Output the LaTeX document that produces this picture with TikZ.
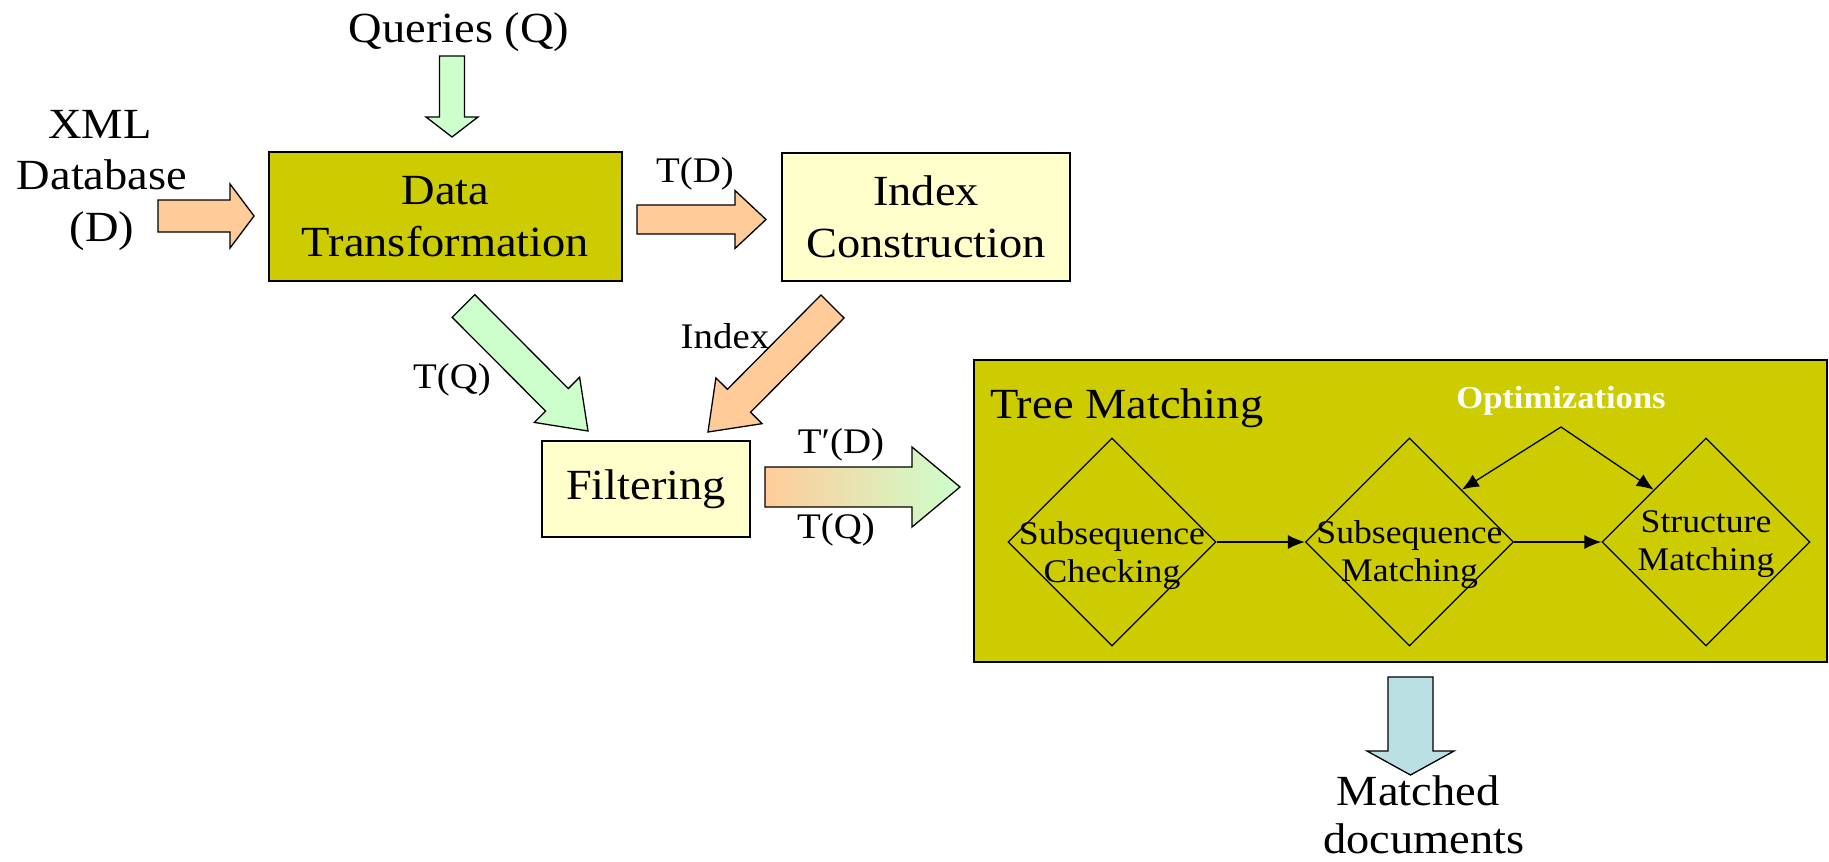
\documentclass[tikz,border=0pt]{standalone}
\usepackage{fontspec}
\setmainfont{Liberation Serif}[FakeStretch=1.08]
\usetikzlibrary{calc,arrows.meta,shapes.geometric}
\definecolor{oliveF}{RGB}{204,204,0}
\definecolor{paleY}{RGB}{255,255,204}
\definecolor{orA}{RGB}{255,204,153}
\definecolor{grA}{RGB}{204,255,204}
\definecolor{blA}{RGB}{187,224,227}
\newcommand\blockarrow[6]{%
  \coordinate (ba-n) at ($(#3)!#6!(#2)$);
  \draw[#1] ($(#2)!#4!90:(#3)$) -- ($(ba-n)!#4!90:(#3)$) -- ($(ba-n)!#5!90:(#3)$) -- (#3)
    -- ($(ba-n)!#5!-90:(#3)$) -- ($(ba-n)!#4!-90:(#3)$) -- ($(#2)!#4!-90:(#3)$) -- cycle;}
\tikzset{
  box/.style={draw=black, line width=2pt, inner sep=0pt, align=center, font=\fontsize{43}{52}\selectfont},
  bigtxt/.style={font=\fontsize{43}{52}\selectfont, inner sep=0pt},
  lbl/.style={font=\fontsize{36}{43}\selectfont, inner sep=0pt},
  barr/.style={draw=black, line width=1.3pt, line join=miter},
  diam/.style={diamond, draw=black, line width=1.3pt, minimum width=208pt, minimum height=208pt, inner sep=0pt, shape aspect=1},
  dtext/.style={font=\fontsize{33}{38}\selectfont, align=center, inner sep=0pt},
  thinarrow/.style={line width=1.3pt, -{Latex[length=17pt,width=14pt]}},
}
\begin{document}
\begin{tikzpicture}[x=1pt,y=-1pt]
\useasboundingbox (0,0) rectangle (1829,862);
% boxes
\node[box, fill=oliveF, minimum width=353pt, minimum height=129pt] (dt) at (445.5,216.5) {Data\\Transformation};
\node[box, fill=paleY, minimum width=288pt, minimum height=128pt] (ic) at (926,217) {Index\\Construction};
\node[box, fill=paleY, minimum width=208pt, minimum height=96pt] (filt) at (646,489) {Filtering};
\node[box, fill=oliveF, minimum width=853pt, minimum height=302pt] (tm) at (1400.5,511) {};
% block arrows
\coordinate (qa1) at (452,56); \coordinate (qa2) at (452,137);
\blockarrow{barr,fill=grA}{qa1}{qa2}{12.5pt}{26pt}{20pt}
\coordinate (xa1) at (158,216); \coordinate (xa2) at (254,216);
\blockarrow{barr,fill=orA}{xa1}{xa2}{16pt}{32pt}{24pt}
\coordinate (ta1) at (637,219.5); \coordinate (ta2) at (766,219.5);
\blockarrow{barr,fill=orA}{ta1}{ta2}{14.5pt}{29pt}{31pt}
\coordinate (ga1) at (463.5,306); \coordinate (ga2) at (588,431);
\blockarrow{barr,fill=grA}{ga1}{ga2}{16pt}{32pt}{44pt}
\coordinate (oa1) at (832.5,306.5); \coordinate (oa2) at (708,432);
\blockarrow{barr,fill=orA}{oa1}{oa2}{16.3pt}{32.5pt}{44pt}
\coordinate (fa1) at (765,487); \coordinate (fa2) at (960,487);
\blockarrow{barr,left color=orA,right color=grA}{fa1}{fa2}{20pt}{40pt}{48pt}
\coordinate (ma1) at (1410.5,677); \coordinate (ma2) at (1410.5,775);
\blockarrow{barr,fill=blA}{ma1}{ma2}{22.5pt}{43.5pt}{24pt}
% free texts
\node[bigtxt, anchor=base] (q) at (459,42) {Queries (Q)};
\node[bigtxt, anchor=base] (xml1) at (100,138) {XML};
\node[bigtxt, anchor=base] (xml2) at (102,189) {Database};
\node[bigtxt, anchor=base] (xml3) at (102,241) {(D)};
\node[lbl, anchor=base] (ltd) at (695,182) {T(D)};
\node[lbl, anchor=base] (ltq) at (452,388) {T(Q)};
\node[lbl, anchor=base] (lidx) at (725,348) {Index};
\node[lbl, anchor=base] (ltpd) at (841,453) {T′(D)};
\node[lbl, anchor=base] (ltq2) at (836,538) {T(Q)};
\node[bigtxt, anchor=base] (m1) at (1418,805) {Matched};
\node[bigtxt, anchor=base] (m2) at (1424,853) {documents};
% tree matching content
\node[bigtxt, anchor=base west] (tmt) at (990,418) {Tree Matching};
\node[font=\fontsize{32}{38}\selectfont\bfseries, text=white, inner sep=0pt, anchor=base] (opt) at (1561,408) {Optimizations};
\node[diam] (d1) at (1112,542) {};
\node[diam] (d2) at (1409.5,542) {};
\node[diam] (d3) at (1706,542) {};
\node[dtext, yshift=-14pt] (d1t) at (d1) {Subsequence\\Checking};
\node[dtext, yshift=-13pt] (d2t) at (d2) {Subsequence\\Matching};
\node[dtext, yshift=-2pt] (d3t) at (d3) {Structure\\Matching};
\draw[thinarrow] (d1) -- (d2);
\draw[thinarrow] (d2) -- (d3);
\coordinate (apex) at (1561,427);
\draw[thinarrow] (apex) -- (d2.north east);
\draw[thinarrow] (apex) -- (d3.north west);
\end{tikzpicture}
\end{document}
